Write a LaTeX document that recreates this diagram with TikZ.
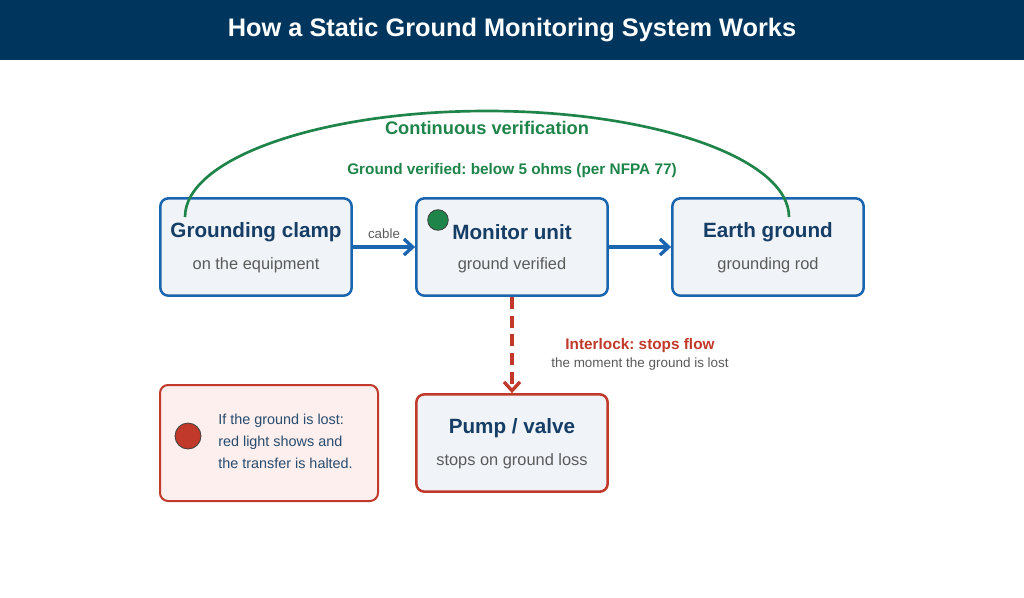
\documentclass[tikz,border=0pt]{standalone}
\usepackage{fontspec}
\setmainfont{Liberation Sans}
\frenchspacing
\usetikzlibrary{arrows.meta}
\definecolor{barnavy}{RGB}{0,54,94}
\definecolor{boxblue}{RGB}{26,101,176}
\definecolor{boxfill}{RGB}{240,244,248}
\definecolor{headnavy}{RGB}{21,61,102}
\definecolor{subgrey}{RGB}{90,90,90}
\definecolor{okgreen}{RGB}{30,132,73}
\definecolor{stopred}{RGB}{192,57,43}
\definecolor{warnfill}{RGB}{253,239,238}
\definecolor{warntext}{RGB}{40,75,110}

\begin{document}
\begin{tikzpicture}[x=0.75pt,y=-0.75pt,>={Straight Barb[length=6.5pt,width=12pt]},line join=bevel,
  box/.style={draw=boxblue,fill=boxfill,line width=1.9pt,rounded corners=6pt,
    minimum width=143.5pt,minimum height=73pt,inner sep=0pt},
  stopbox/.style={box,draw=stopred},
  boxtitle/.style={text=headnavy,font=\fontsize{15.5}{18}\selectfont\bfseries},
  boxsub/.style={text=subgrey,font=\fontsize{12.3}{15}\selectfont},
  flow/.style={draw=boxblue,line width=2.5pt},
  interlock/.style={draw=stopred,line width=2.5pt,dash pattern=on 9pt off 5pt},
  verify/.style={draw=okgreen,line width=2pt},
  lamp/.style={circle,draw=black!75,line width=0.6pt,inner sep=0pt}]
%%
\useasboundingbox (0,0) rectangle (1024,597);
\fill [barnavy] (0,0) rectangle (1024,60);
\node (node_heading) at (512,30) [text=white,font=\fontsize{19}{22}\selectfont\bfseries] {How a Static Ground Monitoring System Works};
%
\node (node_clamp) at (256,247) [box] {};
  \node (node_monitor) at (512,247) [box] {};
  \node (node_earth) at (768,247) [box] {};
  \node (node_pump) at (512,443) [stopbox] {};
  \node (node_warn) at (269,443) [stopbox,fill=warnfill,line width=1.5pt,minimum width=163.5pt,minimum height=87pt] {};
%
\node (node_clamp_t) at (256,232) [boxtitle] {Grounding clamp};
  \node (node_clamp_s) at (256,265) [boxsub] {on the equipment};
  \node (node_monitor_t) at (512,232) [boxtitle] {Monitor unit};
  \node (node_monitor_s) at (512,265) [boxsub] {ground verified};
  \node (node_earth_t) at (768,232) [boxtitle] {Earth ground};
  \node (node_earth_s) at (768,265) [boxsub] {grounding rod};
  \node (node_pump_t) at (512,428) [boxtitle] {Pump / valve};
  \node (node_pump_s) at (512,461) [boxsub] {stops on ground loss};
%
\node (node_led) at (438,220) [lamp,fill=okgreen,minimum size=15.5pt] {};
  \node (node_alarm) at (188,436) [lamp,fill=stopred,minimum size=19.5pt] {};
  \node (node_warn_t) at (218,441) [anchor=west,inner sep=0pt,align=left,text=warntext,
    font=\fontsize{10.8}{16.5}\selectfont] {If the ground is lost:\\red light shows and\\the transfer is halted.};
%
\draw [flow,->] (node_clamp) -- (node_monitor);
  \draw [flow,->] (node_monitor) -- (node_earth);
  \draw [interlock,->] (node_monitor) -- (node_pump);
  \node (node_cable) at (384,234) [text=subgrey,font=\fontsize{10}{12}\selectfont] {cable};
  \node (node_stop_t) at (640,346) [text=stopred,font=\fontsize{11.5}{14}\selectfont\bfseries] {Interlock: stops flow};
  \node (node_stop_s) at (640,364) [text=subgrey,font=\fontsize{10.1}{12}\selectfont] {the moment the ground is lost};
%
\coordinate (arc_a) at (185,217);
  \coordinate (arc_top) at (487,111);
  \coordinate (arc_b) at (789,217);
  \draw [verify] (arc_a) ..controls (185,158.5) and (320.2,111) .. (arc_top)
    ..controls (653.8,111) and (789,158.5) .. (arc_b);
  \node (node_cont) at (487,128) [text=okgreen,font=\fontsize{13.7}{16}\selectfont\bfseries] {Continuous verification};
  \node (node_ohms) at (512,171) [text=okgreen,font=\fontsize{11.5}{14}\selectfont\bfseries] {Ground verified: below 5 ohms (per NFPA 77)};
%
\end{tikzpicture}
\end{document}
